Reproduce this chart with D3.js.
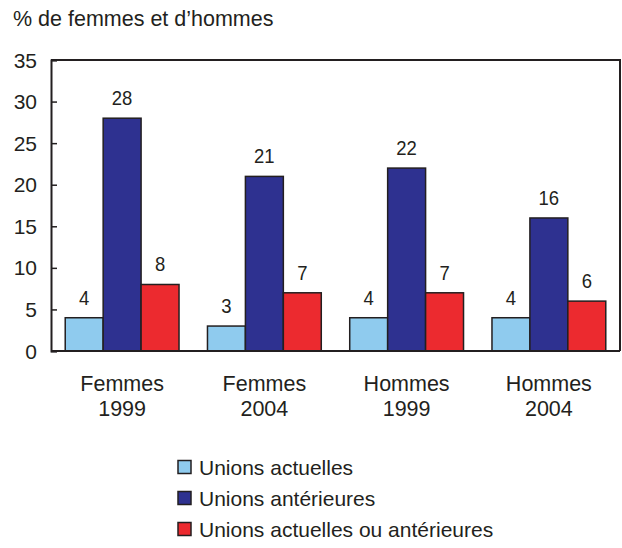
<!DOCTYPE html>
<html>
<head>
<meta charset="utf-8">
<script src="https://cdn.jsdelivr.net/npm/d3@7"></script>
<style>
  body { margin: 0; background: #fff; }
  text { font-family: "Liberation Sans", Arial, sans-serif; fill: #231f20; }
</style>
</head>
<body>
<svg></svg>
<script>
// chart data
const groups = ["Femmes|1999", "Femmes|2004", "Hommes|1999", "Hommes|2004"];
const series = ["Unions actuelles", "Unions antérieures", "Unions actuelles ou antérieures"];
const colors = ["#8fcbee", "#2e3190", "#ec2a2f"];
const actuelles = [4, 3, 4, 4];
const anterieures = [28, 21, 22, 16];
const actOuAnt = [8, 7, 7, 6];
const yTicks = [0, 5, 10, 15, 20, 25, 30, 35];

const values = [actuelles, anterieures, actOuAnt];

const svg = d3.select('svg')
    .attr('width', 622)
    .attr('height', 548);

const plotLeft = 51, plotRight = 620, plotTop = 60, plotBottom = 351;

const x = d3.scaleBand()
    .domain(groups)
    .range([plotLeft, plotRight])
    .paddingInner(0.2)
    .paddingOuter(0.1);

const xs = d3.scaleBand()
    .domain(series)
    .range([0, x.bandwidth()]);

const y = d3.scaleLinear()
    .domain([0, 35])
    .range([plotBottom, plotTop]);

// title
svg.append('text')
    .attr('x', 13)
    .attr('y', 26)
    .attr('font-size', 21.5)
    .text("% de femmes et d’hommes");

// bars
series.forEach((s, si) => {
    groups.forEach((g, gi) => {
        const v = values[si][gi];
        const cx = x(g) + xs(s) + xs.bandwidth() / 2;
        svg.append('rect')
            .attr('x', x(g) + xs(s))
            .attr('y', y(v))
            .attr('width', xs.bandwidth())
            .attr('height', y(0) - y(v))
            .attr('fill', colors[si])
            .attr('stroke', '#231f20')
            .attr('stroke-width', 1.5);
        svg.append('text')
            .attr('text-anchor', 'middle')
            .attr('font-size', 21)
            .attr('transform', `translate(${cx},${y(v) - 13}) scale(0.88,1)`)
            .text(v);
    });
});

// frame: top and right lines
svg.append('path')
    .attr('d', `M${plotLeft},${plotTop}H${plotRight}V${plotBottom}`)
    .attr('fill', 'none')
    .attr('stroke', '#231f20')
    .attr('stroke-width', 2);

// y axis with ticks inside
const yAxis = svg.append('g')
    .attr('transform', `translate(${plotLeft},0)`)
    .call(d3.axisRight(y).tickValues(yTicks).tickSize(6).tickFormat(''));
yAxis.select('.domain').attr('stroke', '#231f20').attr('stroke-width', 2);
yAxis.selectAll('.tick line').attr('stroke', '#231f20').attr('stroke-width', 1.5);

yTicks.forEach(t => {
    svg.append('text')
        .attr('x', 37)
        .attr('y', y(t) + 7.5)
        .attr('text-anchor', 'end')
        .attr('font-size', 21)
        .text(t);
});

// x baseline
svg.append('line')
    .attr('x1', plotLeft).attr('x2', plotRight)
    .attr('y1', plotBottom).attr('y2', plotBottom)
    .attr('stroke', '#231f20')
    .attr('stroke-width', 2);

// category labels
groups.forEach(g => {
    const parts = g.split('|');
    const cx = x(g) + x.bandwidth() / 2;
    parts.forEach((p, i) => {
        svg.append('text')
            .attr('x', cx)
            .attr('y', 391 + i * 25)
            .attr('text-anchor', 'middle')
            .attr('font-size', 21.5)
            .text(p);
    });
});

// legend
series.forEach((s, i) => {
    const ly = 467 + i * 31;
    svg.append('rect')
        .attr('x', 178)
        .attr('y', ly - 6.5)
        .attr('width', 13)
        .attr('height', 13)
        .attr('fill', colors[i])
        .attr('stroke', '#231f20')
        .attr('stroke-width', 1.5);
    svg.append('text')
        .attr('x', 199)
        .attr('y', ly + 7.5)
        .attr('font-size', 21)
        .text(s);
});
</script>
</body>
</html>
